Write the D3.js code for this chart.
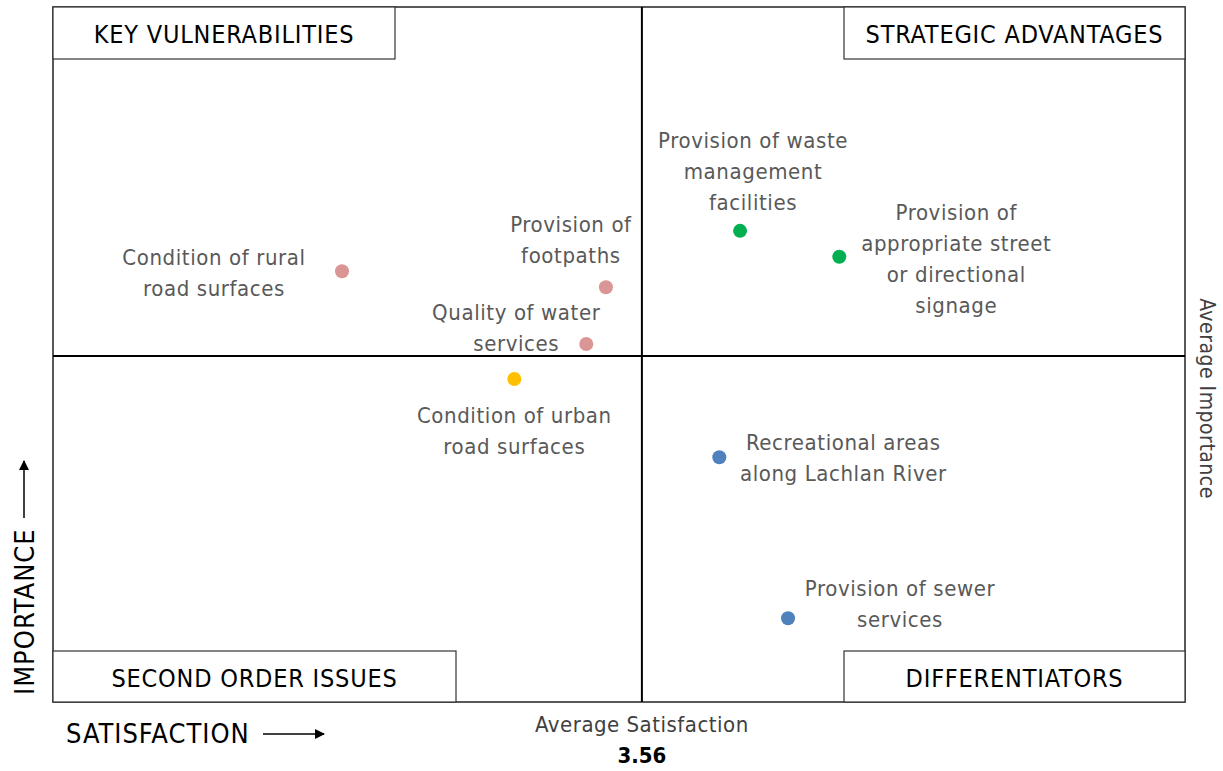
<!DOCTYPE html>
<html>
<head>
<meta charset="utf-8">
<script src="https://cdn.jsdelivr.net/npm/d3@7"></script>
<style>
  body { margin: 0; background: #fff; }
  svg text { font-family: 'Liberation Sans Narrow', 'DejaVu Sans Condensed', sans-serif; }
</style>
</head>
<body>
<div id="chart"></div>
<script>
(() => {
'use strict';

// attribute names and scores
const ATTRIBUTES = [
  ['Condition of rural', 'road surfaces'],
  ['Provision of', 'footpaths'],
  ['Quality of water', 'services'],
  ['Condition of urban', 'road surfaces'],
  ['Provision of waste', 'management', 'facilities'],
  ['Provision of', 'appropriate street', 'or directional', 'signage'],
  ['Recreational areas', 'along Lachlan River'],
  ['Provision of sewer', 'services']
];
const SATISFACTION = [3.285, 3.527, 3.509, 3.443, 3.650, 3.741, 3.631, 3.694];
const IMPORTANCE = [4.470, 4.438, 4.324, 4.254, 4.551, 4.499, 4.097, 3.774];
const GROUP = ['vuln', 'vuln', 'vuln', 'second', 'strategic', 'strategic', 'diff', 'diff'];

const AVG_SATISFACTION = 3.56;
const AVG_IMPORTANCE = 4.30;

const QUADRANTS = ['KEY VULNERABILITIES', 'STRATEGIC ADVANTAGES', 'SECOND ORDER ISSUES', 'DIFFERENTIATORS'];

// label placement relative to each point (pixels): dx of centre, dy of first line
const LABEL_PLACE = [
  [-128, -14], [-35, -63], [-70, -32], [0, 36],
  [13, -91], [117, -45], [124, -15], [112, -30]
];
const LINE_GAP = 31;

const WIDTH = 1223;
const HEIGHT = 771;
const LEFT = 53, RIGHT = 1185, TOP = 7, BOTTOM = 702;

const color = d3.scaleOrdinal()
  .domain(['vuln', 'second', 'strategic', 'diff'])
  .range(['#D99694', '#FFC000', '#00B050', '#4F81BD']);

const xScale = d3.scaleLinear().domain([3.02, 4.058]).range([LEFT, RIGHT]);
const yScale = d3.scaleLinear().domain([3.606, 5.0]).range([BOTTOM, TOP]);

const SVG = d3.select('#chart')
  .append('svg')
  .attr('width', WIDTH)
  .attr('height', HEIGHT);

const defs = SVG.append('defs');
defs.append('marker')
  .attr('id', 'arrow')
  .attr('viewBox', '0 0 10 10')
  .attr('refX', 9).attr('refY', 5)
  .attr('markerWidth', 10).attr('markerHeight', 10)
  .attr('markerUnits', 'userSpaceOnUse')
  .attr('orient', 'auto')
  .append('path')
    .attr('d', 'M0,0 L10,5 L0,10 z')
    .attr('fill', '#000');

// frame
SVG.append('rect')
  .attr('x', LEFT).attr('y', TOP)
  .attr('width', RIGHT - LEFT).attr('height', BOTTOM - TOP)
  .attr('fill', 'none')
  .attr('stroke', '#222')
  .attr('stroke-width', 1.5);

const cx = xScale(AVG_SATISFACTION);
const cy = yScale(AVG_IMPORTANCE);

SVG.append('line')
  .attr('x1', cx).attr('x2', cx).attr('y1', TOP).attr('y2', BOTTOM)
  .attr('stroke', '#000').attr('stroke-width', 2);
SVG.append('line')
  .attr('x1', LEFT).attr('x2', RIGHT).attr('y1', cy).attr('y2', cy)
  .attr('stroke', '#000').attr('stroke-width', 2);

// quadrant title boxes
const boxes = [
  { x: LEFT, y: TOP, w: 342 },
  { x: 844, y: TOP, w: RIGHT - 844 },
  { x: LEFT, y: 651, w: 403 },
  { x: 844, y: 651, w: RIGHT - 844 }
];
const boxH = 52;
const qg = SVG.selectAll('.quad')
  .data(QUADRANTS)
  .enter()
  .append('g')
    .attr('class', 'quad');
qg.append('rect')
  .attr('x', (d, i) => boxes[i].x)
  .attr('y', (d, i) => boxes[i].y)
  .attr('width', (d, i) => boxes[i].w)
  .attr('height', (d, i) => i < 2 ? boxH : BOTTOM - 651)
  .attr('fill', '#fff')
  .attr('stroke', '#333')
  .attr('stroke-width', 1.2);
qg.append('text')
  .attr('x', (d, i) => boxes[i].x + boxes[i].w / 2)
  .attr('y', (d, i) => boxes[i].y + (i < 2 ? boxH : BOTTOM - 651) / 2 + 1)
  .attr('dy', '0.36em')
  .attr('text-anchor', 'middle')
  .style('font-size', '25px')
  .style('letter-spacing', '0.8px')
  .attr('fill', '#000')
  .text((d) => d);

// points
const data = ATTRIBUTES.map((lines, i) => ({
  lines, s: SATISFACTION[i], imp: IMPORTANCE[i], g: GROUP[i], place: LABEL_PLACE[i]
}));

SVG.selectAll('circle.dot')
  .data(data)
  .enter()
  .append('circle')
    .attr('class', 'dot')
    .attr('cx', (d) => xScale(d.s))
    .attr('cy', (d) => yScale(d.imp))
    .attr('r', 7)
    .attr('fill', (d) => color(d.g));

const labels = SVG.selectAll('text.label')
  .data(data)
  .enter()
  .append('text')
    .attr('class', 'label')
    .attr('text-anchor', 'middle')
    .attr('fill', '#595959')
    .style('font-size', '22px')
    .style('letter-spacing', '0.6px');

labels.selectAll('tspan')
  .data((d) => d.lines.map((l, k) => ({ l, k, d })))
  .enter()
  .append('tspan')
    .attr('x', (t) => xScale(t.d.s) + t.d.place[0])
    .attr('y', (t) => yScale(t.d.imp) + t.d.place[1] + t.k * LINE_GAP)
    .attr('dy', '0.36em')
    .text((t) => t.l);

// axis titles
SVG.append('text')
  .attr('x', 66).attr('y', 733)
  .attr('dy', '0.36em')
  .style('font-size', '27px')
  .style('letter-spacing', '1px')
  .text('SATISFACTION');
SVG.append('line')
  .attr('x1', 263).attr('x2', 324).attr('y1', 734).attr('y2', 734)
  .attr('stroke', '#000').attr('stroke-width', 1.5)
  .attr('marker-end', 'url(#arrow)');

SVG.append('text')
  .attr('transform', 'translate(24, 695) rotate(-90)')
  .attr('dy', '0.36em')
  .style('font-size', '27px')
  .style('letter-spacing', '1px')
  .text('IMPORTANCE');
SVG.append('line')
  .attr('x1', 24).attr('x2', 24).attr('y1', 518).attr('y2', 461)
  .attr('stroke', '#000').attr('stroke-width', 1.5)
  .attr('marker-end', 'url(#arrow)');

SVG.append('text')
  .attr('x', cx).attr('y', 724)
  .attr('dy', '0.36em')
  .attr('text-anchor', 'middle')
  .attr('fill', '#404040')
  .style('font-size', '22px')
  .style('letter-spacing', '0.5px')
  .text('Average Satisfaction');
SVG.append('text')
  .attr('x', cx).attr('y', 755)
  .attr('dy', '0.36em')
  .attr('text-anchor', 'middle')
  .attr('fill', '#000')
  .style('font-size', '22px')
  .style('font-weight', 'bold')
  .text(d3.format('.2f')(AVG_SATISFACTION));

SVG.append('text')
  .attr('transform', `translate(1208, ${(TOP + BOTTOM) / 2 + 44}) rotate(90)`)
  .attr('dy', '0.36em')
  .attr('text-anchor', 'middle')
  .attr('fill', '#404040')
  .style('font-size', '21px')
  .style('letter-spacing', '0.5px')
  .text('Average Importance');
})();
</script>
</body>
</html>
